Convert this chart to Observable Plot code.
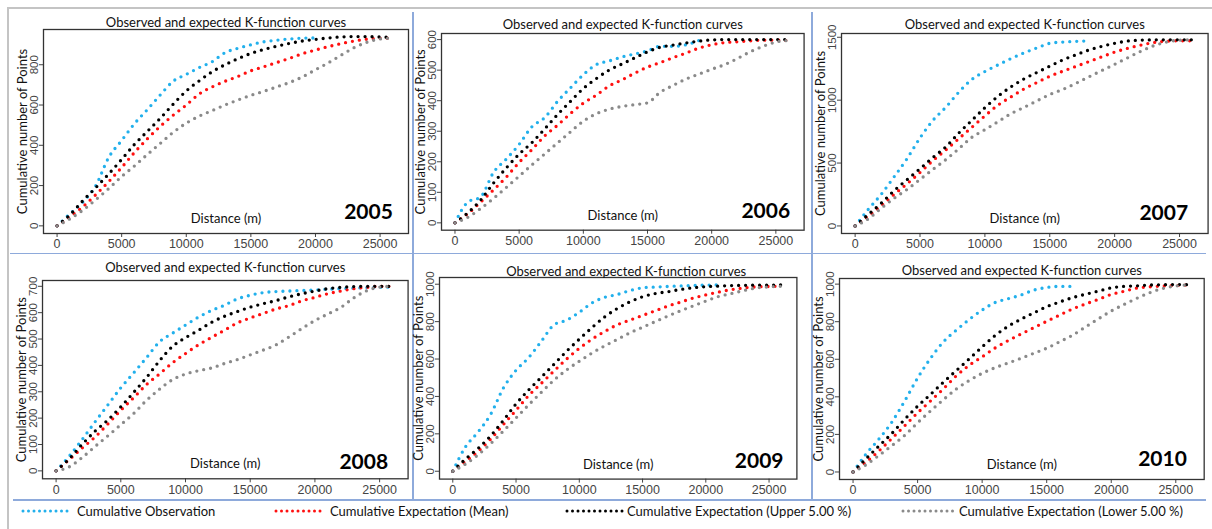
<!DOCTYPE html>
<html><head><meta charset="utf-8">
<script src="https://cdn.jsdelivr.net/npm/d3@7"></script>
<script src="https://cdn.jsdelivr.net/npm/@observablehq/plot@0.6"></script>
<style>
body{margin:0;background:#fff;}
#root{position:relative;width:1212px;height:529px;overflow:hidden;font-family:Lato,sans-serif;background:#fff;}
.pan{position:absolute;}
.sep{position:absolute;background:#8eaadb;}
.brd{position:absolute;background:#c4c4c4;}
.leg{position:absolute;font-family:Lato,sans-serif;font-size:13px;color:#111;white-space:nowrap;line-height:16px;}
.sw{position:absolute;}
</style></head><body><div id="root"></div>
<script>
// ---------------- data ----------------
const dist = [0,1000,2000,3000,4000,5000,6000,7000,8000,9000,10000,11000,12000,13000,14000,15000,16000,17000,18000,19000,20000,21000,22000,23000,24000,25000,26000];
const xTicks = [0,5000,10000,15000,20000,25000];
const years = ["2005","2006","2007","2008","2009","2010"];
const seriesNames = ["Cumulative Observation","Cumulative Expectation (Mean)","Cumulative Expectation (Upper 5.00 %)","Cumulative Expectation (Lower 5.00 %)"];
const seriesColors = ["#22b0ec","#ff1010","#000000","#8a8a8a"];
const panelTitle = "Observed and expected K-function curves";
const xLabel = "Distance (m)";
const yLabel = "Cumulative number of Points";

const obs2005   = [0,60,118,200,340,424,508,578,651,719,752,786,815,860,882,899,914,922,928,932,933];
const mean2005  = [0,45,95,155,220,290,365,433,495,550,600,655,690,718,742,770,790,811,832,855,873,890,905,918,927,931,932];
const upper2005 = [0,55,125,190,258,330,405,470,535,605,670,720,765,800,830,856,876,892,906,918,926,933,938,940,940,938,936];
const lower2005 = [0,35,78,130,185,245,298,355,410,465,510,545,572,600,625,648,668,690,712,740,775,810,848,885,912,928,932];
const yTicks2005 = [0,200,400,600,800];

const obs2006   = [0,68,85,165,209,257,315,345,398,442,485,518,530,543,553,563,578,578,583,597];
const mean2006  = [0,30,68,108,150,198,240,285,320,358,392,418,448,468,490,510,525,541,556,572,583,590,593,596,598,598,597];
const upper2006 = [0,33,75,130,180,225,263,308,355,398,440,472,500,520,540,560,575,582,589,595,599,600,600,600,600,600,600];
const lower2006 = [0,18,47,80,116,153,190,226,262,298,333,357,372,381,387,393,428,450,471,487,503,518,538,560,578,592,597];
const yTicks2006 = [0,100,200,300,400,500,600];

const obs2007   = [0,130,250,390,535,700,840,945,1065,1165,1228,1280,1330,1375,1415,1452,1462,1467,1472];
const mean2007  = [0,75,160,250,335,425,520,605,695,785,875,960,1025,1088,1140,1190,1230,1268,1306,1344,1382,1412,1437,1458,1469,1472,1472];
const upper2007 = [0,90,180,280,368,455,545,630,740,840,940,1030,1105,1168,1220,1270,1320,1360,1398,1428,1452,1470,1477,1479,1480,1480,1480];
const lower2007 = [0,55,140,220,290,370,450,528,615,705,765,828,892,942,994,1045,1085,1133,1185,1235,1285,1337,1388,1432,1462,1477,1479];
const yTicks2007 = [0,500,1000,1500];

const obs2008   = [0,55,118,185,250,315,372,430,490,522,553,583,608,628,652,666,676,680,682,684,686,689,691,693,695,696,697];
const mean2008  = [0,42,86,128,178,230,278,328,368,410,445,478,506,533,561,580,597,614,627,645,658,672,682,691,696,700,700];
const upper2008 = [0,45,100,150,193,243,298,355,418,472,505,533,563,586,604,621,634,646,660,672,682,691,696,699,700,700,700];
const lower2008 = [0,15,50,92,133,175,218,268,310,346,367,380,390,407,422,440,458,478,508,540,570,595,620,656,683,697,700];
const yTicks2008 = [0,100,200,300,400,500,600,700];

const obs2009   = [0,130,210,305,445,540,608,695,783,808,850,900,930,945,966,981,985,988,991,993,995,996];
const mean2009  = [0,52,106,172,250,326,405,470,536,600,657,706,747,783,808,833,858,883,904,926,943,958,971,980,986,988,989];
const upper2009 = [0,65,122,190,272,360,435,503,572,642,706,768,825,870,906,933,950,960,972,981,987,990,993,994,995,995,996];
const lower2009 = [0,38,88,148,215,285,355,422,487,542,588,632,670,705,740,770,800,830,858,884,910,934,950,966,980,986,989];
const yTicks2009 = [0,200,400,600,800,1000];

const obs2010   = [0,95,175,265,378,500,605,693,755,812,862,902,922,942,968,982,988,988];
const mean2010  = [0,52,112,178,246,315,378,443,512,568,613,660,699,734,768,802,835,868,894,919,945,962,979,986,990,993,996];
const upper2010 = [0,70,138,205,280,350,413,478,540,602,666,726,775,813,847,880,905,928,946,963,980,988,991,995,997,998,997];
const lower2010 = [0,38,88,140,195,262,325,385,442,487,525,555,580,605,632,659,693,728,772,815,857,892,925,955,977,990,996];
const yTicks2010 = [0,200,400,600,800,1000];

// ---------------- layout ----------------
const panels = [
  {year:years[0], s:[obs2005,mean2005,upper2005,lower2005], yTicks:yTicks2005, yDomain:[-38,975],  f:[43.3,29.3,408.3,233.3], tDy:-2.6, tDx:0, yrDx:-15.6, yrDy:-15},
  {year:years[1], s:[obs2006,mean2006,upper2006,lower2006], yTicks:yTicks2006, yDomain:[-24,620],  f:[440.7,33.3,803.3,230],  tDy:-4,   tDx:0, yrDx:-14,   yrDy:-11.7},
  {year:years[2], s:[obs2007,mean2007,upper2007,lower2007], yTicks:yTicks2007, yDomain:[-60,1530], f:[840.7,33.3,1207.3,233.3], tDy:-4, tDx:0, yrDx:-20,   yrDy:-13.3},
  {year:years[3], s:[obs2008,mean2008,upper2008,lower2008], yTicks:yTicks2008, yDomain:[-30,722],  f:[41.7,280,407.3,478.3],  tDy:-8.3, tDx:0, yrDx:-20,   yrDy:-10},
  {year:years[4], s:[obs2009,mean2009,upper2009,lower2009], yTicks:yTicks2009, yDomain:[-42,1036], f:[439.3,276.7,796.7,478.3], tDy:-1.7, tDx:8, yrDx:-13.4, yrDy:-11},
  {year:years[5], s:[obs2010,mean2010,upper2010,lower2010], yTicks:yTicks2010, yDomain:[-40,1030], f:[839.3,278.3,1204,479.3], tDy:-3,   tDx:0, yrDx:-17.3, yrDy:-13}
];
const xDomain = [-1050, 27200];
const M = {l:36, t:24, r:4, b:20};

const root = document.getElementById("root");
function addDiv(cls, x, y, w, h) {
  const d = document.createElement("div");
  d.className = cls;
  Object.assign(d.style, {left:x+"px", top:y+"px", width:w+"px", height:h+"px"});
  root.appendChild(d);
}
// outer border and table separators
addDiv("brd", 6.5, 6.5, 2, 530);
addDiv("brd", 6.5, 6.5, 1210, 2);
addDiv("sep", 412, 12, 1.5, 487);
addDiv("sep", 811, 12, 1.5, 487);
addDiv("sep", 10, 252.8, 1196, 1.5);
addDiv("sep", 13, 499.3, 1193, 1.5);

const dotStyle = {strokeWidth: 3.3, strokeDasharray: "0 7", strokeLinecap: "round"};
const tickFont = "Liberation Sans, Arial, sans-serif";

for (const p of panels) {
  const [fl, ft, fr, fb] = p.f;
  const width = (fr - fl) + M.l + M.r;
  const height = (fb - ft) + M.t + M.b;
  const rows = [];
  p.s.forEach((arr, k) => arr.forEach((v, i) => rows.push({series: seriesNames[k], x: dist[i], y: v})));
  const lines = seriesNames.map((name, k) =>
    Plot.line(rows.filter(r => r.series === name), {x: "x", y: "y", stroke: seriesColors[k], curve: "monotone-x", ...dotStyle})
  );
  const chart = Plot.plot({
    width, height,
    marginLeft: M.l, marginTop: M.t, marginRight: M.r, marginBottom: M.b,
    x: {domain: xDomain},
    y: {domain: p.yDomain},
    style: {background: "none", overflow: "visible", fontFamily: "Lato, sans-serif", color: "#222"},
    marks: [
      Plot.axisX({ticks: xTicks, tickSize: 4, tickPadding: 2, label: null, tickFormat: d => String(d), fontSize: 12.5, fontFamily: tickFont, color: "#444"}),
      Plot.axisY({ticks: p.yTicks, tickSize: 4, tickFormat: () => "", label: null, color: "#444"}),
      Plot.text(p.yTicks, {y: d => d, text: d => String(d), frameAnchor: "left", textAnchor: "middle", dx: -9.5, rotate: -90, fontSize: 11.5, fill: "#444", fontFamily: tickFont}),
      ...lines,
      Plot.frame({stroke: "#333", strokeWidth: 1.3}),
      Plot.text([panelTitle], {frameAnchor: "top", textAnchor: "middle", lineAnchor: "bottom", dy: p.tDy, dx: p.tDx, fontSize: 13, fill: "#111"}),
      Plot.text([yLabel], {frameAnchor: "left", textAnchor: "middle", rotate: -90, dx: -20.5, fontSize: 13, fill: "#111"}),
      Plot.text([xLabel], {frameAnchor: "bottom", textAnchor: "middle", dy: -10.5, fontSize: 13, fill: "#111"}),
      Plot.text([p.year], {frameAnchor: "bottom-right", textAnchor: "end", lineAnchor: "bottom", dx: p.yrDx, dy: p.yrDy, fontSize: 21, fontWeight: "bold", fill: "#000", fontFamily: "Lato, sans-serif"})
    ]
  });
  const wrap = document.createElement("div");
  wrap.className = "pan";
  wrap.style.left = (fl - M.l) + "px";
  wrap.style.top = (ft - M.t) + "px";
  wrap.appendChild(chart);
  root.appendChild(wrap);
}

// legend
const legendPos = [[23, 71, 77], [276, 324, 330], [567, 623, 627], [903, 955, 959]];
const legendY = 511;
seriesNames.forEach((name, k) => {
  const [x0, x1, tx] = legendPos[k];
  const ns = "http://www.w3.org/2000/svg";
  const svg = document.createElementNS(ns, "svg");
  svg.setAttribute("class", "sw");
  svg.setAttribute("width", x1 - x0 + 6);
  svg.setAttribute("height", 8);
  svg.style.left = (x0 - 3) + "px";
  svg.style.top = (legendY - 4) + "px";
  const ln = document.createElementNS(ns, "line");
  ln.setAttribute("x1", 3); ln.setAttribute("x2", x1 - x0 + 3);
  ln.setAttribute("y1", 4); ln.setAttribute("y2", 4);
  ln.setAttribute("stroke", seriesColors[k]);
  ln.setAttribute("stroke-width", 3);
  ln.setAttribute("stroke-dasharray", "0 5.5");
  ln.setAttribute("stroke-linecap", "round");
  svg.appendChild(ln);
  root.appendChild(svg);
  const t = document.createElement("div");
  t.className = "leg";
  t.textContent = name;
  t.style.left = tx + "px";
  t.style.top = (legendY - 8) + "px";
  root.appendChild(t);
});
</script></body></html>
